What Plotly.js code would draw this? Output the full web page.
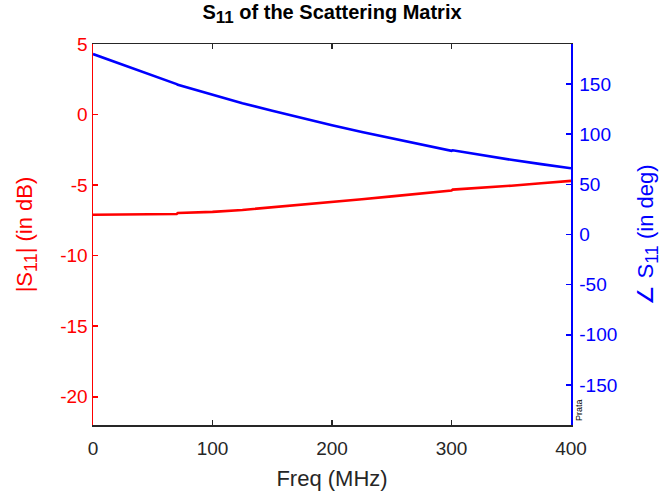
<!DOCTYPE html>
<html><head><meta charset="utf-8">
<script src="https://cdn.plot.ly/plotly-3.0.1.min.js"></script>
<style>html,body{margin:0;padding:0;background:#fff}#c{width:664px;height:496px}</style>
</head><body><div id="c"></div>
<script>
const freq = [0, 25, 50, 70, 71, 100, 125, 150, 175, 200, 225, 250, 275, 300, 301, 325, 350, 375, 400];
const magDb = [-7.1, -7.1, -7.08, -7.05, -6.98, -6.9, -6.76, -6.58, -6.4, -6.2, -6.0, -5.8, -5.6, -5.38, -5.32, -5.2, -5.04, -4.87, -4.7];
const phaseDeg = [180, 169.5, 158.5, 150, 149.3, 139.5, 131, 123.5, 116, 109, 102.3, 95.8, 89.5, 83.5, 84, 79, 74.5, 70.2, 66];
const xTicks = [0, 100, 200, 300, 400];
const magTicks = [5, 0, -5, -10, -15, -20];
const phaseTicks = [150, 100, 50, 0, -50, -100, -150];

const font = "Liberation Sans, Arial, Helvetica, sans-serif";
const data = [
  {x: freq, y: magDb, type: 'scatter', mode: 'lines', line: {color: '#ff0000', width: 2.6}, yaxis: 'y'},
  {x: freq, y: phaseDeg, type: 'scatter', mode: 'lines', line: {color: '#0000ff', width: 2.6}, yaxis: 'y2'}
];
const sub = (s, px) => '<sub><span style="font-size:' + px + 'px">' + s + '</span></sub>';
const layout = {
  width: 664, height: 496,
  margin: {l: 93, r: 93, t: 44, b: 71},
  paper_bgcolor: '#fff', plot_bgcolor: '#fff',
  showlegend: false,
  font: {family: font},
  title: {text: '<b>S' + sub('11', 17) + ' of the Scattering Matrix</b>', font: {size: 20, color: '#000', family: font}, x: 0.5, xanchor: 'center', y: 0.99, yanchor: 'top'},
  xaxis: {
    range: [0, 400], tickvals: xTicks, ticktext: xTicks.map(String),
    showgrid: false, zeroline: false, showline: true, linecolor: '#262626', linewidth: 1.5,
    mirror: 'ticks', ticks: 'inside', ticklen: 5, tickcolor: '#262626', tickwidth: 1.5,
    tickfont: {size: 19, color: '#262626'}, ticklabelstandoff: 6,
    title: {text: 'Freq (MHz)', font: {size: 22, color: '#262626'}, standoff: 12}
  },
  yaxis: {
    range: [-22, 5], tickvals: magTicks, ticktext: magTicks.map(String),
    showgrid: false, zeroline: false, showline: true, linecolor: '#ff0000', linewidth: 1.5,
    ticks: 'inside', ticklen: 5, tickcolor: '#ff0000', tickwidth: 1.5,
    tickfont: {size: 19, color: '#ff0000'},
    title: {text: '|S' + sub('11', 18) + '| (in dB)', font: {size: 22, color: '#ff0000'}, standoff: 21}
  },
  yaxis2: {
    overlaying: 'y', side: 'right', anchor: 'x',
    range: [-190, 190], tickvals: phaseTicks, ticktext: phaseTicks.map(String),
    showgrid: false, zeroline: false, showline: true, linecolor: '#0000ff', linewidth: 1.5,
    ticks: 'inside', ticklen: 5, tickcolor: '#0000ff', tickwidth: 1.5,
    tickfont: {size: 19, color: '#0000ff'}, ticklabelstandoff: 3,
    title: {text: '∠ S' + sub('11', 18) + ' (in deg)', font: {size: 22, color: '#0000ff'}, standoff: 21}
  },
  annotations: [{
    text: 'Prata', xref: 'paper', yref: 'paper', x: 1, y: 0, xanchor: 'left', yanchor: 'bottom',
    textangle: -90, showarrow: false, font: {size: 9, color: '#000'}, xshift: 1, yshift: 2
  }]
};
Plotly.newPlot('c', data, layout, {displayModeBar: false, staticPlot: true});
</script></body></html>
